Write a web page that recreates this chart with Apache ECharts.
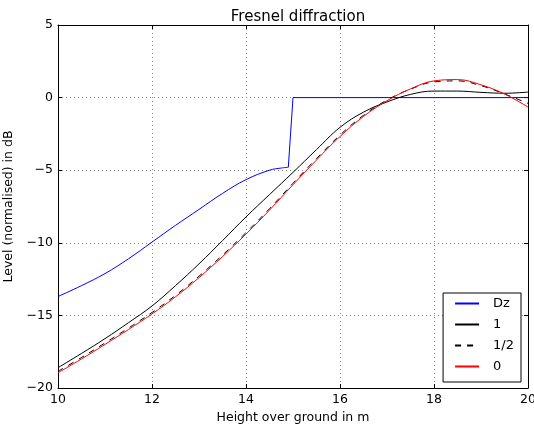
<!DOCTYPE html>
<html>
<head>
<meta charset="utf-8">
<script src="https://cdn.jsdelivr.net/npm/echarts@6/dist/echarts.min.js"></script>
<style>
  html, body { margin: 0; padding: 0; background: #fff; }
  #chart { width: 534px; height: 428px; }
</style>
</head>
<body>
<div id="chart"></div>
<script>
  // height over ground (m), shared by the three order curves
  const heights = [10, 10.5, 11, 11.5, 12, 12.5, 13, 13.5, 14, 14.5, 15, 15.5, 16, 16.5, 17, 17.5, 18, 18.5, 19, 19.5, 20];
  const level1 = [-18.6, -17.62, -16.6, -15.5, -14.35, -12.95, -11.45, -9.85, -8.22, -6.68, -5.15, -3.58, -2.05, -1.0, -0.3, 0.22, 0.45, 0.45, 0.36, 0.3, 0.38];
  const levelHalf = [-18.85, -17.9, -16.9, -15.87, -14.8, -13.62, -12.3, -10.85, -9.3, -7.65, -5.9, -4.2, -2.58, -1.22, -0.17, 0.58, 1.08, 1.15, 0.82, 0.25, -0.4];
  const level0 = [-18.95, -18.0, -17.0, -15.97, -14.9, -13.72, -12.4, -10.95, -9.4, -7.75, -6.0, -4.3, -2.68, -1.3, -0.22, 0.6, 1.15, 1.24, 0.88, 0.25, -0.65];

  // Dz curve: smooth part below the edge, then the jump to 0
  const dzHeights = [10, 10.5, 11, 11.5, 12, 12.5, 13, 13.5, 14, 14.5, 14.75, 14.9];
  const dzLevels = [-13.7, -12.95, -12.12, -11.1, -9.95, -8.8, -7.7, -6.6, -5.65, -5.0, -4.85, -4.8];
  const dzJumpHeights = [14.9, 15, 20];
  const dzJumpLevels = [-4.8, 0, 0];

  const legendNames = ['Dz', '1', '1/2', '0'];

  const pairs = (xs, ys) => xs.map((x, i) => [x, ys[i]]);
  const minus = v => String(v).replace('-', '\u2212');
  const font = 'DejaVu Sans';

  const chart = echarts.init(document.getElementById('chart'), null, { renderer: 'canvas' });

  const gridLine = { show: true, lineStyle: { color: '#888', type: [1, 3], width: 1 } };
  const tick = { show: true, inside: true, length: 4, lineStyle: { color: '#000' } };
  const line = { show: true, onZero: false, lineStyle: { color: '#000', width: 1 } };

  const option = {
    animation: false,
    backgroundColor: '#fff',
    title: {
      text: 'Fresnel diffraction',
      left: 293,
      top: 5,
      textAlign: 'center',
      textStyle: { fontFamily: font, fontSize: 15, fontWeight: 'normal', color: '#000' }
    },
    grid: { left: 58, right: 6, top: 25, bottom: 40, containLabel: false, outerBoundsMode: 'none' },
    legend: {
      data: legendNames,
      orient: 'vertical',
      right: 13,
      bottom: 46,
      itemWidth: 24,
      itemHeight: 14,
      itemGap: 8,
      padding: [4, 7, 9, 11],
      borderColor: '#000',
      borderWidth: 1,
      borderRadius: 0,
      backgroundColor: '#fff',
      itemStyle: { opacity: 0 },
      textStyle: { fontFamily: font, fontSize: 13, color: '#000', padding: [0, 0, 0, 9] }
    },
    xAxis: [
      {
        type: 'value', min: 10, max: 20, interval: 2,
        name: 'Height over ground in m', nameLocation: 'middle', nameGap: 22,
        nameTextStyle: { fontFamily: font, fontSize: 12.5, color: '#000' },
        axisLine: line, axisTick: tick, splitLine: gridLine,
        axisLabel: { fontFamily: font, fontSize: 12.5, color: '#000', margin: 5 }
      },
      {
        type: 'value', min: 10, max: 20, interval: 2, position: 'top',
        axisLine: line, axisTick: tick, splitLine: { show: false }, axisLabel: { show: false }
      }
    ],
    yAxis: [
      {
        type: 'value', min: -20, max: 5, interval: 5,
        name: 'Level (normalised) in dB', nameLocation: 'middle', nameGap: 33,
        nameTextStyle: { fontFamily: font, fontSize: 12.5, color: '#000' },
        axisLine: line, axisTick: tick, splitLine: gridLine,
        axisLabel: { fontFamily: font, fontSize: 12.5, color: '#000', margin: 5, formatter: minus }
      },
      {
        type: 'value', min: -20, max: 5, interval: 5, position: 'right',
        axisLine: line, axisTick: tick, splitLine: { show: false }, axisLabel: { show: false }
      }
    ],
    series: [
      {
        name: 'Dz', type: 'line', showSymbol: false, symbol: 'none', smooth: 0.4,
        lineStyle: { color: '#0000ff', width: 1 }, itemStyle: { color: '#0000ff' },
        data: pairs(dzHeights, dzLevels)
      },
      {
        name: 'Dz', type: 'line', showSymbol: false, symbol: 'none', smooth: false,
        lineStyle: { color: '#0000ff', width: 1 }, itemStyle: { color: '#0000ff' },
        data: pairs(dzJumpHeights, dzJumpLevels)
      },
      {
        name: '1', type: 'line', showSymbol: false, symbol: 'none', smooth: 0.4,
        lineStyle: { color: '#000', width: 1 }, itemStyle: { color: '#000' },
        data: pairs(heights, level1)
      },
      {
        name: '1/2', type: 'line', showSymbol: false, symbol: 'none', smooth: 0.4,
        lineStyle: { color: '#000', width: 1, type: [6, 6] }, itemStyle: { color: '#000' },
        data: pairs(heights, levelHalf)
      },
      {
        name: '0', type: 'line', showSymbol: false, symbol: 'none', smooth: 0.4,
        lineStyle: { color: '#ff0000', width: 1 }, itemStyle: { color: '#ff0000' },
        data: pairs(heights, level0)
      }
    ]
  };

  chart.setOption(option);
</script>
</body>
</html>
